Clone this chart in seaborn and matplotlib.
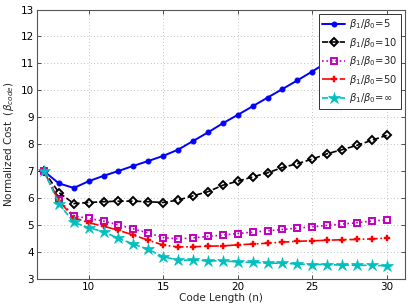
import matplotlib
matplotlib.use("Agg")
import matplotlib.pyplot as plt
import seaborn as sns
import pandas as pd
import numpy as np

code_length = list(range(7, 31))
cost_r5 = [7.0, 6.55, 6.38, 6.63, 6.83, 7.01, 7.2, 7.38, 7.57, 7.80, 8.12, 8.44, 8.78, 9.09,
           9.41, 9.73, 10.05, 10.37, 10.70, 11.05, 11.38, 11.70, 12.03, 12.36]
cost_r10 = [7.0, 6.21, 5.80, 5.84, 5.87, 5.89, 5.89, 5.87, 5.84, 5.93, 6.09, 6.24, 6.48, 6.63,
            6.79, 6.94, 7.14, 7.28, 7.45, 7.65, 7.80, 7.96, 8.15, 8.33]
cost_r30 = [7.0, 5.95, 5.34, 5.25, 5.15, 5.01, 4.86, 4.71, 4.54, 4.49, 4.53, 4.58, 4.63, 4.69,
            4.74, 4.79, 4.84, 4.89, 4.94, 4.99, 5.04, 5.09, 5.15, 5.20]
cost_r50 = [7.0, 5.90, 5.28, 5.09, 4.96, 4.81, 4.63, 4.44, 4.26, 4.19, 4.20, 4.22, 4.23, 4.27,
            4.30, 4.33, 4.37, 4.40, 4.42, 4.44, 4.46, 4.47, 4.49, 4.52]
cost_rinf = [7.0, 5.80, 5.10, 4.91, 4.75, 4.51, 4.30, 4.10, 3.83, 3.70, 3.70, 3.68, 3.67, 3.64,
             3.62, 3.59, 3.59, 3.56, 3.54, 3.54, 3.52, 3.51, 3.51, 3.49]
labels = [r'$\beta_1/\beta_0$=5', r'$\beta_1/\beta_0$=10', r'$\beta_1/\beta_0$=30',
          r'$\beta_1/\beta_0$=50', r'$\beta_1/\beta_0$=$\infty$']
x_ticks = [10, 15, 20, 25, 30]
y_ticks = list(range(3, 14))

sns.set_theme(style="ticks")
plt.rcParams['font.family'] = ['DejaVu Sans']
plt.rcParams['mathtext.fontset'] = 'dejavusans'

fig = plt.figure(figsize=(4.15, 3.07), dpi=100)
ax = fig.add_axes([0.088, 0.091, 0.887, 0.878])

series = [cost_r5, cost_r10, cost_r30, cost_r50, cost_rinf]
styles = [
    dict(color='#0000FF', linestyle='-', marker='o', markersize=3.5, linewidth=1.4,
         markerfacecolor='#0000FF', markeredgecolor='#0000FF', markeredgewidth=0.8),
    dict(color='#000000', linestyle='--', marker='D', markersize=4.0, linewidth=1.2,
         markerfacecolor='none', markeredgecolor='#000000', markeredgewidth=1.4,
         dashes=(4, 2.5)),
    dict(color='#C000C0', linestyle=':', marker='s', markersize=5.0, linewidth=1.2,
         markerfacecolor='none', markeredgecolor='#C000C0', markeredgewidth=1.4),
    dict(color='#FF0000', linestyle='-.', marker='P', markersize=4.5, linewidth=1.2,
         markerfacecolor='#FF0000', markeredgecolor='#FF0000', markeredgewidth=0.3),
    dict(color='#00BFBF', linestyle='--', marker='*', markersize=9, linewidth=1.2,
         markerfacecolor='#00BFBF', markeredgecolor='#00BFBF', markeredgewidth=0.5,
         dashes=(4, 2.5)),
]

for vals, lab, st in zip(series, labels, styles):
    df = pd.DataFrame({'n': code_length, 'cost': vals})
    sns.lineplot(data=df, x='n', y='cost', ax=ax, label=lab, **st)

ax.set_xlim(6.5, 31.2)
ax.set_ylim(3, 13)
ax.set_xticks(x_ticks)
ax.set_yticks(y_ticks)
ax.tick_params(direction='in', top=True, right=True, labelsize=7.5, length=3,
               width=0.6, colors='#333333', labelcolor='black', pad=2)
ax.grid(True, linestyle=(0, (1, 3)), color='#AAAAAA', linewidth=0.6)
for s in ax.spines.values():
    s.set_color('#555555')
    s.set_linewidth(0.8)

ax.set_xlabel('Code Length (n)', fontsize=7.5, labelpad=1)
ax.set_ylabel(r'Normalized Cost  ($\beta_{code}$)', fontsize=7.5, labelpad=3)

leg = ax.legend(loc='upper right', fontsize=7.2, frameon=True, fancybox=False,
                edgecolor='#333333', framealpha=1, borderpad=0.35, labelspacing=0.45,
                handlelength=2.3, handletextpad=0.4, borderaxespad=0.4)
leg.get_frame().set_linewidth(0.7)

fig.savefig('out.png', dpi=100)
